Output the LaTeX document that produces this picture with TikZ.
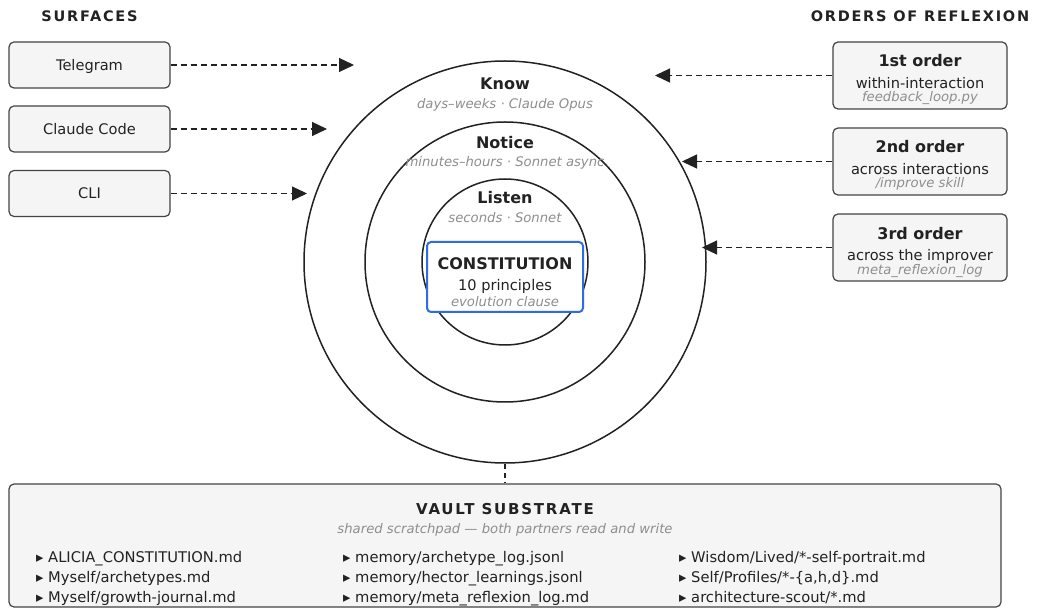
\documentclass[tikz,border=0pt]{standalone}
\usepackage{fontspec}
\setmainfont{DejaVu Sans}
\newfontfamily\spacedfont{DejaVu Sans}[LetterSpace=12]
\usetikzlibrary{arrows.meta}
\definecolor{ink}{HTML}{222222}
\definecolor{boxfill}{HTML}{F5F5F5}
\definecolor{boxline}{HTML}{444444}
\definecolor{subgrey}{HTML}{8E8E8E}
\definecolor{constblue}{HTML}{2F6BE4}
\begin{document}
\begin{tikzpicture}[x=1pt,y=-1pt,
  box/.style={draw=boxline, fill=boxfill, line width=1.2pt, rounded corners=5pt, inner sep=0pt},
  txt/.style={anchor=base, inner sep=0pt, text=ink, font=\fontsize{14.6}{17}\selectfont},
  ttl/.style={anchor=base, inner sep=0pt, text=ink, font=\fontsize{16}{19}\selectfont\bfseries},
  sub/.style={anchor=base, inner sep=0pt, text=subgrey, font=\fontsize{13.2}{15}\selectfont\itshape},
  head/.style={anchor=base, inner sep=0pt, text=ink, font=\fontsize{14.5}{17}\selectfont\spacedfont\bfseries},
  ring/.style={draw=ink, line width=1.5pt, circle, inner sep=0pt},
  flow/.style={draw=ink, line width=1.2pt, dash pattern=on 6pt off 4pt, -{Triangle[length=15pt,width=14pt]}},
  item/.style={anchor=base west, inner sep=0pt, text=ink, font=\fontsize{14.7}{17}\selectfont},
]
\path[fill=white, use as bounding box] (0,0) rectangle (1037,609);

% headings
\node[head] (hsurf) at (89.5,21.7) {SURFACES};
\node[head] (horders) at (920,21.7) {ORDERS OF REFLEXION};

% surfaces
\node[box, minimum width=161pt, minimum height=46pt] (tg) at (89.5,65) {};
\node[txt] (tgt) at (89.5,70.7) {Telegram};
\node[box, minimum width=161pt, minimum height=46pt] (cc) at (89.5,129) {};
\node[txt] (cct) at (89.5,134.3) {Claude Code};
\node[box, minimum width=161pt, minimum height=46pt] (cli) at (89.5,193.5) {};
\node[txt] (clit) at (89.5,199) {CLI};

% rings
\node[ring, minimum size=402pt] (know) at (505,262) {};
\node[ring, minimum size=280pt] (notice) at (505,262) {};
\node[ring, minimum size=166pt] (listen) at (505,262) {};

\node[ttl] (knowt) at (505,90) {Know};
\node[sub] (knows) at (505,108.7) {days–weeks · Claude Opus};
\node[ttl] (noticet) at (505,148.3) {Notice};
\node[sub] (notices) at (505,166.7) {minutes–hours · Sonnet async};
\node[ttl] (listent) at (505,204) {Listen};
\node[sub] (listens) at (505,222.7) {seconds · Sonnet};

% constitution
\node[draw=constblue, fill=white, line width=2pt, rounded corners=4pt, minimum width=156pt, minimum height=70pt, inner sep=0pt] (const) at (505,277) {};
\node[ttl] (constt) at (505,270) {CONSTITUTION};
\node[txt] (consta) at (505,291) {10 principles};
\node[sub] (consts) at (505,306.7) {evolution clause};

% orders of reflexion
\node[box, minimum width=174pt, minimum height=67pt] (o1) at (920,75.5) {};
\node[ttl] (o1t) at (920,66.7) {1st order};
\node[txt] (o1a) at (920,88.3) {within-interaction};
\node[sub] (o1s) at (920,101.7) {feedback\_loop.py};
\node[box, minimum width=174pt, minimum height=67pt] (o2) at (920,161.5) {};
\node[ttl] (o2t) at (920,153) {2nd order};
\node[txt] (o2a) at (920,174.5) {across interactions};
\node[sub] (o2s) at (920,188) {/improve skill};
\node[box, minimum width=174pt, minimum height=67pt] (o3) at (920,247.5) {};
\node[ttl] (o3t) at (920,239.3) {3rd order};
\node[txt] (o3a) at (920,260.8) {across the improver};
\node[sub] (o3s) at (920,274.3) {meta\_reflexion\_log};

% arrow ends
\coordinate (etg) at (354,65);
\coordinate (ecc) at (327,129);
\coordinate (ecli) at (307,193.5);
\coordinate (eo1) at (655,75.5);
\coordinate (eo2) at (682,161.5);
\coordinate (eo3) at (702,247.5);
\draw[flow] (tg.east) -- (etg);
\draw[flow] (cc.east) -- (ecc);
\draw[flow] (cli.east) -- (ecli);
\draw[flow] (o1.west) -- (eo1);
\draw[flow] (o2.west) -- (eo2);
\draw[flow] (o3.west) -- (eo3);

% vault
\node[box, minimum width=992pt, minimum height=123pt] (vault) at (505,545.5) {};
\draw[draw=ink, line width=1.2pt, dash pattern=on 5pt off 4pt] (know.south) -- (vault.north);
\node[head, font=\fontsize{15}{18}\selectfont\spacedfont\bfseries] (vaultt) at (505,514.3) {VAULT SUBSTRATE};
\node[sub] (vaults) at (505,533.3) {shared scratchpad — both partners read and write};

\node[item] (a1) at (36,562.3) {▸ ALICIA\_CONSTITUTION.md};
\node[item] (a2) at (36,582.3) {▸ Myself/archetypes.md};
\node[item] (a3) at (36,602.3) {▸ Myself/growth-journal.md};
\node[item] (b1) at (343,562.3) {▸ memory/archetype\_log.jsonl};
\node[item] (b2) at (343,582.3) {▸ memory/hector\_learnings.jsonl};
\node[item] (b3) at (343,602.3) {▸ memory/meta\_reflexion\_log.md};
\node[item] (c1) at (679,562.3) {▸ Wisdom/Lived/*-self-portrait.md};
\node[item] (c2) at (679,582.3) {▸ Self/Profiles/*-\{a,h,d\}.md};
\node[item] (c3) at (679,602.3) {▸ architecture-scout/*.md};
\end{tikzpicture}
\end{document}
